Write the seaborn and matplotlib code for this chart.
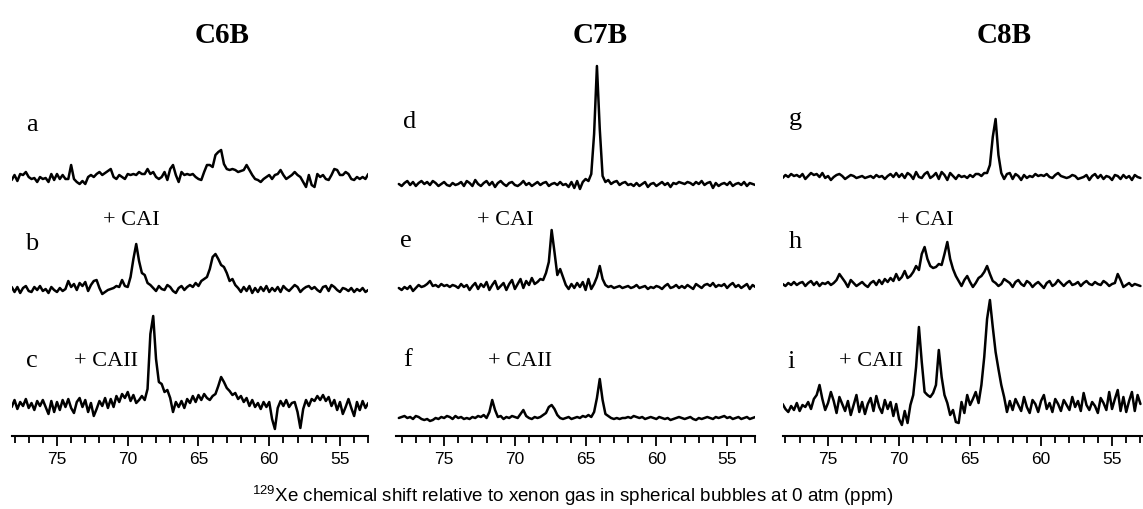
import numpy as np
import matplotlib
matplotlib.use("Agg")
import matplotlib.pyplot as plt
import seaborn as sns
from matplotlib.ticker import FixedLocator, MultipleLocator

# ---------------- data (signal heights in pixel-like units above each trace baseline) -------------
ppm = np.round(78.2 - 0.2 * np.arange(127), 1)   # acquisition grid, 78.2 ... 53.0 ppm

column_titles = ["C6B", "C7B", "C8B"]
trace_labels = [["a", "b", "c"], ["d", "e", "f"], ["g", "h", "i"]]
tick_values = [75, 70, 65, 60, 55]
tick_labels = ["75", "70", "65", "60", "55"]
x_label = r"$\mathregular{^{129}}$Xe chemical shift relative to xenon gas in spherical bubbles at 0 atm (ppm)"

trace_a = [-2, 3, -3, 4, 3, 6, 1, -1, 0, -4,
           1, -1, 0, -4, 4, -2, 4, -1, 3, -1,
           -1, 13, -1, -4, -6, -3, -6, 1, 3, 1,
           4, 6, 3, 5, 7, 9, 1, -1, 3, 1,
           -1, 4, 3, 4, 3, 6, 4, 4, 9, 4,
           6, 1, -1, 1, 6, -2, 9, 13, 3, -4,
           6, 3, 4, 3, 4, 1, -1, -2, 6, 13,
           13, 11, 23, 26, 28, 14, 9, 8, 9, 8,
           6, 7, 8, 13, 8, 3, -1, -2, -4, -1,
           1, 3, -1, 3, 4, 8, 3, -1, 1, 3,
           6, 3, 1, -4, -9, 3, -7, -9, 4, 1,
           3, -1, -2, 3, 9, 8, 3, 3, 6, 4,
           -1, -2, 1, -1, 1, -1, 4]
trace_b = [2, -3, 2, -4, 1, 3, -2, -3, 2, -1,
           3, -2, 0, -4, 2, -1, -3, 1, -2, 0,
           8, 2, 5, -1, 6, 3, 7, -2, 4, 8,
           9, 1, -5, -3, -1, 0, 1, 3, 2, 9,
           3, 2, 12, 30, 45, 28, 16, 14, 6, 4,
           1, -2, 3, 0, -1, 4, 2, -2, -4, 1,
           3, -1, 2, 4, 2, 6, 3, 8, 10, 12,
           20, 32, 35, 30, 24, 22, 16, 8, 10, 4,
           1, -3, 2, -2, 3, -4, 1, -3, 2, -2,
           3, -3, 1, -2, 2, -3, 3, 0, -2, 1,
           4, 2, -3, 0, 2, 3, 0, 2, -1, -3,
           2, 3, -2, 4, 2, -1, -3, 1, 0, -2,
           1, -3, 0, -2, 1, -3, -1]
trace_c = [-3, 4, -5, 2, -2, 5, -4, 1, -6, 3,
           -2, 4, -3, -10, 3, -8, 2, -6, 4, -3,
           5, -4, -9, 2, 6, -3, 4, -8, 1, -12,
           -5, 3, -2, 6, -4, 5, -3, 8, 2, 10,
           6, 12, 3, 9, 1, 4, 8, 4, 15, 70,
           88, 45, 22, 20, 12, 14, 6, -8, 2, -3,
           3, -4, 5, 1, 8, 2, 9, 4, 10, 6,
           4, 8, 10, 18, 27, 22, 16, 13, 9, 11,
           5, 8, 2, 6, -2, 4, -3, 1, -5, 2,
           -3, 2, -15, -25, -4, 3, -2, 4, -3, 1,
           2, -8, -24, -5, 4, -2, 5, 3, 8, 4,
           9, 3, 7, -2, 4, -6, 2, -10, -3, 5,
           -4, -12, 2, -6, 3, -4, 1]
trace_d = [0, -2, 1, 3, -1, 2, -2, 1, 3, 0,
           2, -1, 3, 1, -2, 0, 2, -1, -2, 1,
           -1, 0, 2, -2, 3, 1, -2, 4, 0, -2,
           1, 3, -1, 2, -3, 1, 3, 0, -2, 1,
           2, -1, -2, 0, 3, -1, 1, -2, 0, 2,
           -1, 1, 2, -2, 0, 1, -1, 2, -1, 0,
           -3, 2, -4, 3, -5, 2, 5, 3, 10, 50,
           118, 55, 8, 2, 4, 0, 2, 3, -1, 1,
           2, -1, 0, -2, 1, -2, 0, 2, -3, 0,
           1, -2, 0, 2, -1, 1, -3, 1, 0, 2,
           1, 0, 2, 1, -1, 2, 0, 3, -1, 1,
           2, -4, 1, -2, 0, 1, -1, 2, -2, 0,
           1, -1, 2, -2, 1, 0, -1]
trace_e = [-1, -3, 0, -2, 1, -4, -1, 2, 0, 1,
           3, 6, 1, 2, 0, 3, 1, 2, 0, 2,
           1, -1, 3, 0, 2, -3, 1, 4, -2, 3,
           0, 5, -3, 2, 6, -2, 1, 4, -3, 3,
           7, -2, 3, 8, -1, 6, 2, 9, 3, 5,
           8, 7, 14, 25, 57, 35, 12, 18, 10, 2,
           -2, 3, -1, 4, 0, 5, -3, 8, -2, 3,
           10, 21, 8, 2, 0, 1, -1, 0, 1, -1,
           0, 1, -1, 0, 2, -1, 0, 1, -2, 0,
           -1, 1, 0, -2, 1, 3, -1, 0, 2, -1,
           1, -1, 2, 0, -2, 3, 1, -1, 2, 3,
           1, 4, 0, 2, 1, 3, -1, 2, 4, 0,
           2, -1, 1, 3, -2, 2, 0]
trace_f = [0, 1, 2, 0, 1, -1, 2, 1, -1, -2,
           -1, -3, -2, 0, -1, 1, 0, 2, 1, -1,
           2, 0, 1, -1, 0, -1, 1, 0, 2, 1,
           3, 0, 6, 18, 8, 1, 2, -1, 1, 0,
           2, 1, 0, 4, 8, 2, 0, -1, 1, 0,
           1, 3, 5, 11, 13, 9, 3, 0, -1, 0,
           1, -1, 0, 1, 0, 2, 1, 3, 1, 6,
           20, 39, 18, 4, 2, 0, -1, 0, -1, 0,
           0, 1, 0, 2, 1, 0, 1, -1, 0, 1,
           0, -1, 1, 0, -1, 0, -2, -1, 0, 1,
           0, -1, 0, 1, -1, -2, 0, -1, 0, 1,
           0, -1, 1, 0, 1, 2, 0, 1, -1, 0,
           1, -1, 0, 1, -1, 0, 1]
trace_g = [-1, 2, 0, 3, 1, 2, 0, 3, -2, 1,
           4, 2, 3, 0, 4, -1, 1, -3, 0, 2,
           3, 1, -2, 0, 2, 1, -1, 0, 1, -1,
           0, 1, -1, 2, 0, 1, -2, 1, 3, 0,
           4, 0, 3, -1, 4, 2, -2, 5, 0, -1,
           3, 5, -1, 1, 4, -2, 5, 2, -3, 4,
           1, -2, 2, 0, 1, -1, 2, 0, 3, 3,
           1, 4, 4, 12, 40, 58, 22, 4, -2, 3,
           4, -2, 3, 1, -3, 2, -1, 1, 0, 3,
           1, 2, 1, 3, 0, -1, 2, 4, 1, 0,
           -1, 0, 2, 1, -2, -1, 0, 2, -3, 1,
           3, -1, 2, -2, 1, 0, -3, 2, 1, -2,
           2, -1, 1, -3, 2, 0, -1]
trace_h = [0, -2, 1, -1, 2, -1, 1, 2, -2, 1,
           3, -1, 2, -2, 1, 0, 2, -1, 1, 4,
           10, 6, 2, -3, 4, 1, -2, 0, 2, -1,
           -3, 1, 3, -1, 4, 0, 5, 2, 6, 3,
           10, 4, 7, 13, 6, 8, 12, 18, 14, 30,
           37, 25, 18, 16, 17, 20, 19, 30, 42, 25,
           15, 8, 3, -2, 4, 8, 2, -3, 1, 6,
           8, 12, 18, 10, 3, 1, -2, 0, 5, 3,
           1, -3, 2, 4, 0, -2, 3, 1, -3, 0,
           2, -1, -4, 1, 3, -2, 0, 4, 1, -2,
           1, 3, -1, 0, 2, -2, 1, 3, 0, -1,
           2, 0, -1, 3, 1, -2, 0, 1, 10, 4,
           -3, -1, 1, -2, 0, -1, -2]
trace_i = [3, -2, -5, 1, -3, 4, -4, 2, 0, 5,
           -2, 8, 12, 22, 8, -3, 4, 15, 6, -6,
           10, 3, -4, 6, -8, 2, 12, -5, 5, -7,
           3, 9, -4, 11, 0, -6, 7, -2, 5, -9,
           3, -12, -18, -4, -16, 2, 12, 40, 80, 45,
           15, 12, 10, 14, 22, 57, 30, 12, 4, -8,
           -3, -15, -16, 5, -6, 12, 2, 8, 15, 4,
           22, 50, 88, 107, 80, 55, 38, 22, 10, -5,
           6, -3, 8, 2, -4, 10, 0, -6, 7, 3,
           -5, 6, 12, -2, 4, -5, 8, 3, -4, 7,
           2, -3, 10, 0, 6, -4, 14, 2, -3, 5,
           1, -6, 9, 4, -3, 15, -2, 8, 17, -4,
           10, -5, 6, 15, -4, 12, 3]

traces = [[trace_a, trace_b, trace_c], [trace_d, trace_e, trace_f], [trace_g, trace_h, trace_i]]

# ---------------- layout (figure pixels) ----------------
W, H = 1143, 510
AXIS_Y, TOP_Y = 437, 40
col_geom = [(11.7, 78.2, 53.0, 14.15), (396.0, 78.4, 53.0, 14.15), (782.6, 78.2, 52.9, 14.2)]
baselines = [[179, 290, 405], [185, 288, 419], [178, 285, 408]]

sns.set_style("white")
plt.rcParams["font.family"] = ["Liberation Sans", "DejaVu Sans"]
plt.rcParams["text.color"] = "black"
plt.rcParams["axes.labelcolor"] = "black"
plt.rcParams["xtick.color"] = "black"

fig = plt.figure(figsize=(W / 100, H / 100), dpi=100)
fig.patch.set_facecolor("white")

for c in range(3):
    left, xmax, xmin, scale = col_geom[c]
    width = (xmax - xmin) * scale
    ax = fig.add_axes([left / W, (H - AXIS_Y) / H, width / W, (AXIS_Y - TOP_Y) / H])
    ax.patch.set_alpha(0)
    for t in range(3):
        y = (AXIS_Y - baselines[c][t]) + np.asarray(traces[c][t], dtype=float)
        sns.lineplot(x=ppm, y=y, ax=ax, color="black", linewidth=1.8, estimator=None, sort=False)
    ax.set_xlim(xmax, xmin)
    ax.set_ylim(0, AXIS_Y - TOP_Y)
    for s in ["top", "left", "right"]:
        ax.spines[s].set_visible(False)
    ax.spines["bottom"].set_linewidth(1.5)
    ax.spines["bottom"].set_color("black")
    ax.set_yticks([])
    ax.xaxis.set_major_locator(FixedLocator(tick_values))
    ax.set_xticklabels(tick_labels)
    ax.xaxis.set_minor_locator(MultipleLocator(1))
    ax.tick_params(axis="x", which="major", bottom=True, direction="out", length=7, width=1.3,
                   labelsize=12.5, pad=4, colors="black")
    ax.tick_params(axis="x", which="minor", bottom=True, direction="out", length=5, width=1.3,
                   colors="black")
    ax.set_xlabel("")
    ax.set_ylabel("")


def ftext(x, y, s, **kw):
    fig.text(x / W, 1 - y / H, s, color="black", **kw)


serif = ["Liberation Serif", "DejaVu Serif"]
title_pos = [(222, 43), (600, 43), (1004, 43)]
for (x, y), s in zip(title_pos, column_titles):
    ftext(x, y, s, family=serif, fontweight="bold", fontsize=21, ha="center", va="baseline")

letter_pos = [[(32, 131), (32, 250), (32, 367)],
              [(410, 128), (406, 247), (408, 366)],
              [(795, 125), (795, 248), (791, 368)]]
for c in range(3):
    for t in range(3):
        x, y = letter_pos[c][t]
        ftext(x, y, trace_labels[c][t], family=serif, fontsize=19, ha="center", va="baseline")

cai_pos = [(131, 225), (505, 225), (925, 225)]
caii_pos = [(106, 366), (520, 366), (871, 366)]
for x, y in cai_pos:
    ftext(x, y, "+ CAI", family=serif, fontsize=16, ha="center", va="baseline")
for x, y in caii_pos:
    ftext(x, y, "+ CAII", family=serif, fontsize=16, ha="center", va="baseline")

ftext(573, 502, x_label, fontsize=13.5, ha="center", va="baseline")

fig.savefig("out.png", dpi=100, facecolor="white")
